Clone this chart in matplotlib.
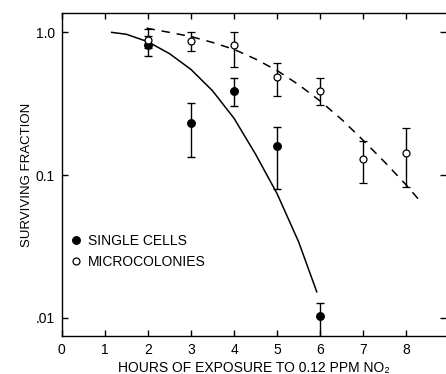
import matplotlib
matplotlib.use('Agg')
import matplotlib.pyplot as plt
from matplotlib.lines import Line2D

plt.rcParams['font.family'] = ['Liberation Sans', 'DejaVu Sans']

# ---- data ----
single_hours = [2, 3, 4, 5, 6]
single_val = [0.815, 0.23, 0.39, 0.16, 0.0103]
single_lo = [0.68, 0.133, 0.305, 0.08, 0.0072]
single_hi = [0.95, 0.32, 0.48, 0.218, 0.0126]

micro_hours = [2, 3, 4, 5, 6, 7, 8]
micro_val = [0.88, 0.865, 0.82, 0.49, 0.39, 0.13, 0.143]
micro_lo = [0.78, 0.74, 0.57, 0.36, 0.31, 0.088, 0.082]
micro_hi = [1.05, 1.0, 1.0, 0.61, 0.48, 0.173, 0.215]

single_fit_hours = [1.16, 1.5, 2.0, 2.5, 3.0, 3.5, 4.0, 4.5, 5.0, 5.5, 5.92]
single_fit_vals = [1.00, 0.97, 0.86, 0.71, 0.55, 0.39, 0.25, 0.14, 0.074, 0.034, 0.0152]

micro_fit_hours = [1.97, 2.5, 3.0, 3.5, 4.0, 4.5, 5.0, 5.5, 6.0, 6.5, 7.0, 7.5, 8.0, 8.37]
micro_fit_vals = [1.07, 1.0, 0.935, 0.85, 0.76, 0.65, 0.54, 0.43, 0.33, 0.245, 0.175, 0.123, 0.085, 0.063]

x_ticks = [0, 1, 2, 3, 4, 5, 6, 7, 8]
y_ticks = [1.0, 0.1, 0.01]
y_tick_labels = ['1.0', '0.1', '.01']

fig = plt.figure(figsize=(4.46, 3.74), dpi=100)
ax = fig.add_axes([0.1383, 0.1016, 1.0 - 0.1383, 0.965 - 0.1016])

ax.set_yscale('log')
ax.set_xlim(0, 8.92)
ax.set_ylim(0.00745, 1.365)

ax.plot(single_fit_hours, single_fit_vals, color='black', lw=1.1, zorder=2)
ax.plot(micro_fit_hours, micro_fit_vals, color='black', lw=1.1,
        dashes=(5.5, 4.5), zorder=2)

s_err = [[v - l for v, l in zip(single_val, single_lo)],
         [h - v for v, h in zip(single_val, single_hi)]]
m_err = [[v - l for v, l in zip(micro_val, micro_lo)],
         [h - v for v, h in zip(micro_val, micro_hi)]]

ax.errorbar(single_hours, single_val, yerr=s_err, fmt='o', color='black',
            ms=5.4, mfc='black', mec='black', ecolor='black', elinewidth=1.0,
            capsize=3, capthick=1.0, zorder=3)
ax.errorbar(micro_hours, micro_val, yerr=m_err, fmt='o', color='black',
            ms=5.0, mfc='white', mec='black', mew=0.9, ecolor='black',
            elinewidth=1.0, capsize=3, capthick=1.0, zorder=4)

ax.set_xticks(x_ticks)
ax.set_xticklabels([str(t) for t in x_ticks])
ax.set_yticks(y_ticks)
ax.set_yticklabels(y_tick_labels)
ax.minorticks_off()
ax.tick_params(axis='both', which='both', direction='in', length=4, width=1.0,
               labelsize=10, top=True, right=True, pad=5)
for side in ['left', 'bottom', 'top']:
    ax.spines[side].set_linewidth(1.0)
ax.spines['right'].set_visible(False)

ax.set_xlabel('HOURS OF EXPOSURE TO 0.12 PPM NO\u2082', fontsize=10, labelpad=3)
ax.set_ylabel('SURVIVING FRACTION', fontsize=9.5, labelpad=2)

handles = [
    Line2D([], [], marker='o', ls='none', color='black', ms=5.4, mfc='black'),
    Line2D([], [], marker='o', ls='none', color='black', ms=5.0, mfc='white', mew=0.9),
]
ax.legend(handles, ['SINGLE CELLS', 'MICROCOLONIES'], loc='upper left',
          bbox_to_anchor=(0.0, 0.343), frameon=False, fontsize=10,
          handlelength=0.8, handletextpad=0.5, borderpad=0, borderaxespad=0.6,
          labelspacing=0.55)

fig.savefig('out.png', dpi=100)
